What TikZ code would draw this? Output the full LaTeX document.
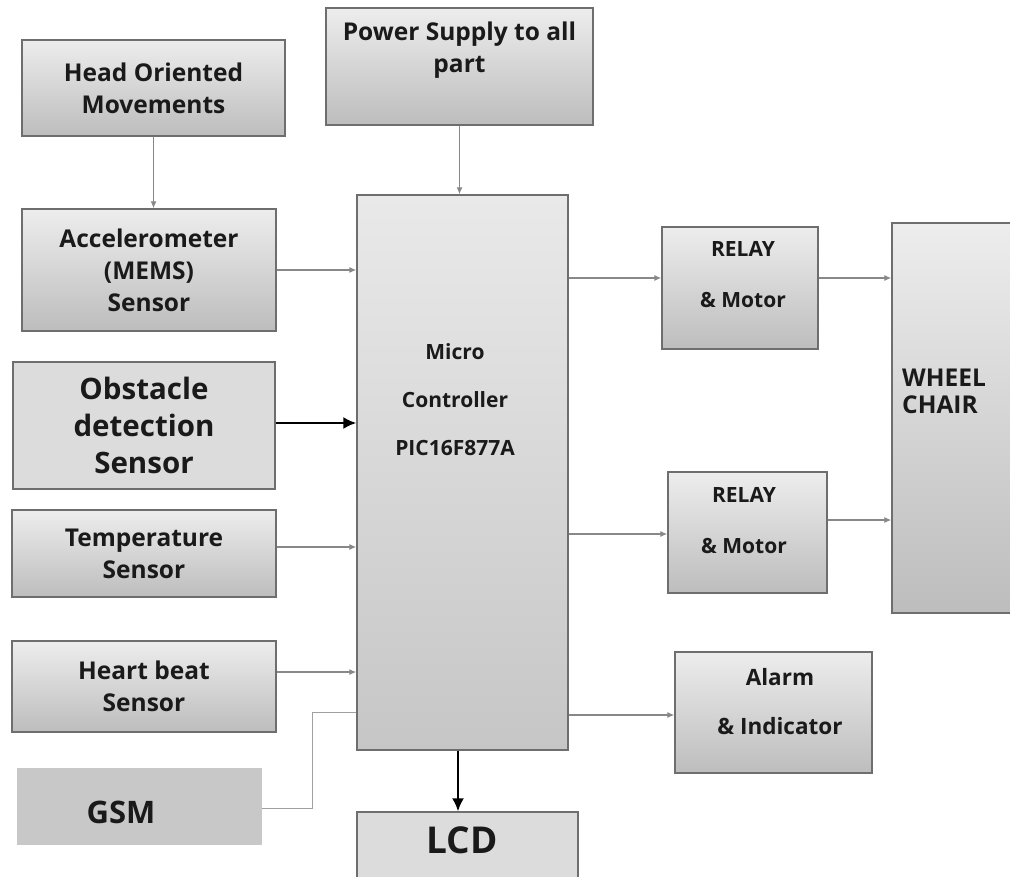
\documentclass[tikz,border=0pt]{standalone}
\usepackage{fontspec}
\setmainfont{Open Sans}
\usetikzlibrary{arrows.meta}
\definecolor{bdr}{HTML}{6E6E6E}
\definecolor{gtop}{HTML}{EDEDED}
\definecolor{gbot}{HTML}{BDBDBD}
\definecolor{mtop}{HTML}{E9E9E9}
\definecolor{mbot}{HTML}{C6C6C6}
\definecolor{flat}{HTML}{DCDCDC}
\definecolor{gsmfill}{HTML}{C8C8C8}
\definecolor{txt}{HTML}{1A1A1A}
\definecolor{wire}{HTML}{888888}
\definecolor{thin}{HTML}{A0A0A0}
\begin{document}
\begin{tikzpicture}[x=1pt,y=-1pt,
  box/.style={draw=bdr, line width=1.4pt, top color=gtop, bottom color=gbot, inner sep=0pt, align=center, text=txt, font=\bfseries\fontsize{24.5}{32}\selectfont},
  flatbox/.style={draw=bdr, line width=1.4pt, fill=flat, inner sep=0pt, align=center, text=txt},
  lbl/.style={align=center, text=txt, inner sep=0pt, font=\bfseries\fontsize{24.5}{32}\selectfont},
  arr/.style={draw=wire, line width=1.2pt, -{Latex[length=7pt,width=6pt]}},
  barr/.style={draw=black, line width=2pt, -{Latex[length=13pt,width=12pt]}},
  gline/.style={draw=thin, line width=0.8pt}
]
\useasboundingbox (0,0) rectangle (1010,877);

% left column
\node[box, minimum width=263pt, minimum height=96pt] (head) at (153.5,88) {Head Oriented\\Movements};
\node[box, minimum width=254pt, minimum height=122pt] (accel) at (149,270) {Accelerometer\\(MEMS)\\Sensor};
\node[flatbox, minimum width=262pt, minimum height=127pt, font=\bfseries\fontsize{29.5}{37}\selectfont] (obst) at (144,425.5) {Obstacle\\detection\\Sensor};
\node[box, minimum width=264pt, minimum height=87pt] (temp) at (144,553.5) {Temperature\\Sensor};
\node[box, minimum width=264pt, minimum height=91pt] (heart) at (144,686.5) {Heart beat\\Sensor};
\node[fill=gsmfill, minimum width=245pt, minimum height=77pt, inner sep=0pt] (gsm) at (139.5,806.5) {};
\node[lbl, font=\bfseries\fontsize{31}{36}\selectfont] (gsmt) at (121,812) {GSM};

% top
\node[box, minimum width=267pt, minimum height=117pt] (power) at (459.5,66.5) {};
\node[lbl] (powert) at (459.5,50) {Power Supply to all\\part};

% micro controller
\node[draw=bdr, line width=1.4pt, top color=mtop, bottom color=mbot, minimum width=211pt, minimum height=555pt, inner sep=0pt] (mc) at (462.5,472.5) {};
\node[lbl, font=\bfseries\fontsize{21}{48}\selectfont] (mct) at (455,400) {Micro\\Controller\\PIC16F877A};

% LCD
\node[draw=bdr, line width=1.4pt, fill=flat, minimum width=221pt, minimum height=80pt, inner sep=0pt] (lcd) at (467.5,852) {};
\node[lbl, font=\bfseries\fontsize{37}{42}\selectfont] (lcdt) at (462,840) {LCD};

% right side
\node[box, minimum width=156pt, minimum height=122pt] (relay1) at (740,288) {};
\node[lbl, font=\bfseries\fontsize{21}{51}\selectfont] (relay1t) at (743,275) {RELAY\\\& Motor};
\node[box, minimum width=159pt, minimum height=121pt] (relay2) at (747.5,532.5) {};
\node[lbl, font=\bfseries\fontsize{21}{51}\selectfont] (relay2t) at (744,521) {RELAY\\\& Motor};
\node[box, minimum width=197pt, minimum height=121pt] (alarm) at (773.5,712.5) {};
\node[lbl, font=\bfseries\fontsize{22.5}{49}\selectfont] (alarmt) at (780,702) {Alarm\\\& Indicator};
\node[box, minimum width=125pt, minimum height=390pt] (wc) at (954.5,418) {};
\node[lbl, align=left, anchor=west, font=\bfseries\fontsize{24.5}{27}\selectfont] (wct) at (902,391) {WHEEL\\CHAIR};

% connectors
\draw[arr] (head.south) -- (head.south |- accel.north);
\draw[arr] (power.south) -- (power.south |- mc.north);
\draw[arr] (accel.east) -- (accel.east -| mc.west);
\draw[barr] ([yshift=2.5pt]obst.east) -- ([yshift=2.5pt]obst.east -| mc.west);
\draw[arr] ([yshift=6.5pt]temp.east) -- ([yshift=6.5pt]temp.east -| mc.west);
\draw[arr] ([yshift=14.5pt]heart.east) -- ([yshift=14.5pt]heart.east -| mc.west);
\draw[arr] ([yshift=10pt]relay1.west -| mc.east) -- ([yshift=10pt]relay1.west);
\draw[arr] ([yshift=10pt]relay1.east) -- ([yshift=10pt]relay1.east -| wc.west);
\draw[arr] ([yshift=-1.5pt]relay2.west -| mc.east) -- ([yshift=-1.5pt]relay2.west);
\draw[arr] ([yshift=12.5pt]relay2.east) -- ([yshift=12.5pt]relay2.east -| wc.west);
\draw[arr] ([yshift=-2.5pt]alarm.west -| mc.east) -- ([yshift=-2.5pt]alarm.west);
\draw[barr] ([xshift=-4.5pt]mc.south) -- ([xshift=-4.5pt]mc.south |- lcd.north);
\draw[gline] ([yshift=-1.5pt]gsm.east) -- ++(50,0) |- ([yshift=-239.5pt]mc.west);
\end{tikzpicture}
\end{document}
